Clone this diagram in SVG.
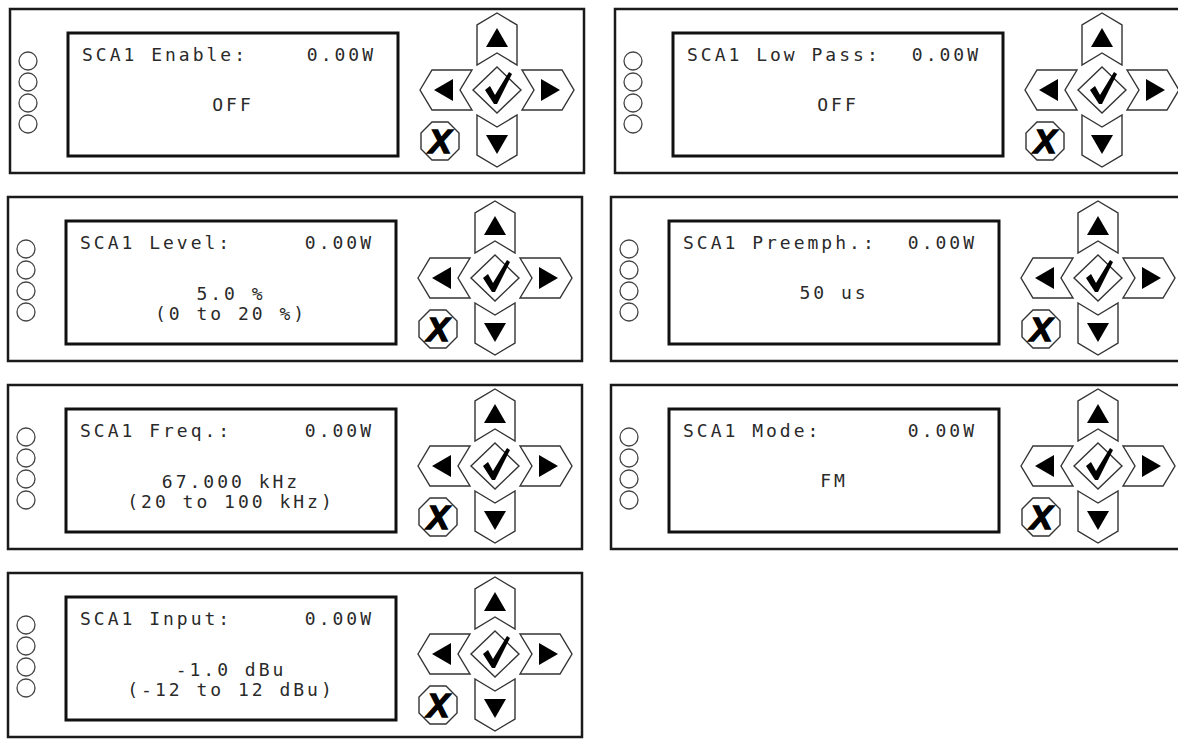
<svg xmlns="http://www.w3.org/2000/svg" xmlns:xlink="http://www.w3.org/1999/xlink" width="1178" height="740" viewBox="0 0 1178 740">
<style>
.outer{fill:#fff;stroke:#1a1a1a;stroke-width:2.5}
.screen{fill:#fff;stroke:#111;stroke-width:3}
.led{fill:#fff;stroke:#444;stroke-width:1.3}
.btn{fill:#fff;stroke:#333;stroke-width:1.4;stroke-linejoin:miter}
.tri{fill:#000}
.lcd{font-family:"DejaVu Sans Mono","Liberation Mono",monospace;font-size:18px;letter-spacing:3px;fill:#2a2a2a}
.mid{text-anchor:middle}
.end{text-anchor:end}
.xg{font-family:"Liberation Sans",Arial,sans-serif;font-weight:bold;font-style:italic;font-size:34px;fill:#000;stroke:#000;stroke-width:1.4;text-anchor:middle}
</style>
<defs>
<g id="chrome">
<rect class="outer" x="0" y="0" width="574" height="164"/>
<rect class="screen" x="58" y="24" width="330" height="123"/>
<circle class="led" cx="18" cy="52" r="9"/>
<circle class="led" cx="18" cy="73" r="9"/>
<circle class="led" cx="18" cy="94" r="9"/>
<circle class="led" cx="18" cy="115" r="9"/>
<polygon class="btn" points="487,4 507,16 507,56 487,44 467,56 467,16"/>
<polygon class="tri" points="487,19 498,38 476,38"/>
<polygon class="btn" points="467,106 487,118 507,106 507,146 487,158 467,146"/>
<polygon class="tri" points="476,126 498,126 487,145"/>
<polygon class="btn" points="410,81 422,61 462,61 450,81 462,101 422,101"/>
<polygon class="tri" points="424,81 443,70 443,92"/>
<polygon class="btn" points="512,61 552,61 564,81 552,101 512,101 524,81"/>
<polygon class="tri" points="550,81 531,70 531,92"/>
<polygon class="btn" points="487,58 511,81 487,104 463,81"/>
<path class="tri" d="M475,81 L480,77 L485,86 L499,63 L502,65 L487,95 L484,95 Z"/>
<polygon class="btn" points="422,113 438,113 449,124 449,140 438,151 422,151 411,140 411,124"/>
<text class="xg" x="430" y="144">X</text>
</g>
</defs>

<g id="panel-enable" transform="translate(10,9)">
<use xlink:href="#chrome"/>
<text class="lcd" x="72" y="52">SCA1 Enable:</text>
<text class="lcd end" x="366" y="52">0.00W</text>
<text class="lcd mid" x="223" y="102">OFF</text>
</g>

<g id="panel-lowpass" transform="translate(615,9)">
<use xlink:href="#chrome"/>
<text class="lcd" x="72" y="52">SCA1 Low Pass:</text>
<text class="lcd end" x="366" y="52">0.00W</text>
<text class="lcd mid" x="223" y="102">OFF</text>
</g>

<g id="panel-level" transform="translate(8,197)">
<use xlink:href="#chrome"/>
<text class="lcd" x="72" y="52">SCA1 Level:</text>
<text class="lcd end" x="366" y="52">0.00W</text>
<text class="lcd mid" x="223" y="103">5.0 %</text>
<text class="lcd mid" x="223" y="123">(0 to 20 %)</text>
</g>

<g id="panel-preemph" transform="translate(611,197)">
<use xlink:href="#chrome"/>
<text class="lcd" x="72" y="52">SCA1 Preemph.:</text>
<text class="lcd end" x="366" y="52">0.00W</text>
<text class="lcd mid" x="223" y="102">50 us</text>
</g>

<g id="panel-freq" transform="translate(8,385)">
<use xlink:href="#chrome"/>
<text class="lcd" x="72" y="52">SCA1 Freq.:</text>
<text class="lcd end" x="366" y="52">0.00W</text>
<text class="lcd mid" x="223" y="103">67.000 kHz</text>
<text class="lcd mid" x="223" y="123">(20 to 100 kHz)</text>
</g>

<g id="panel-mode" transform="translate(611,385)">
<use xlink:href="#chrome"/>
<text class="lcd" x="72" y="52">SCA1 Mode:</text>
<text class="lcd end" x="366" y="52">0.00W</text>
<text class="lcd mid" x="223" y="102">FM</text>
</g>

<g id="panel-input" transform="translate(8,573)">
<use xlink:href="#chrome"/>
<text class="lcd" x="72" y="52">SCA1 Input:</text>
<text class="lcd end" x="366" y="52">0.00W</text>
<text class="lcd mid" x="223" y="103">-1.0 dBu</text>
<text class="lcd mid" x="223" y="123">(-12 to 12 dBu)</text>
</g>

<g id="connectors"></g>
</svg>
